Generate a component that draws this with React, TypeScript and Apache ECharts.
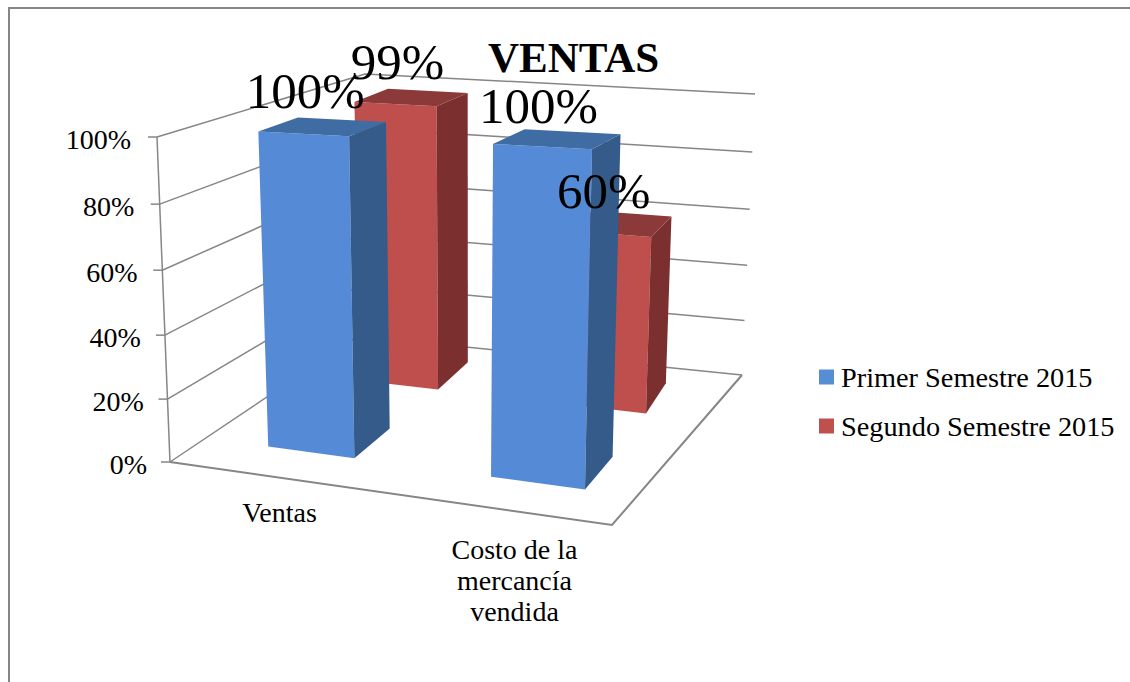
import React, { useEffect, useRef } from "react";
import * as echarts from "echarts";

const categories = ["Ventas", "Costo de la\nmercancía\nvendida"];
const seriesNames = ["Primer Semestre 2015", "Segundo Semestre 2015"];
const primerValues = [1.0, 1.0];
const segundoValues = [0.99, 0.6];
const tickValues = [0, 0.2, 0.4, 0.6, 0.8, 1.0];
const tickLabels = ["0%", "20%", "40%", "60%", "80%", "100%"];
const titleText = "VENTAS";

const FONT = "Liberation Serif";
const GREY = "#868686";

type P = [number, number];
// projected corners of the 3D box: front-left, front-right, back-left, back-right
const floor: P[] = [[170, 462], [612, 525], [358, 336], [742, 375]];
const wallTop: P[] = [[157, 137], [626, 162], [365, 74], [755, 94]];
const barTop: P[] = [[155, 140], [621, 165], [352.5, 77], [755, 97]];

const bil = (c: P[], u: number, w: number): P => {
  const f = (k: 0 | 1) =>
    (1 - w) * ((1 - u) * c[0][k] + u * c[1][k]) + w * ((1 - u) * c[2][k] + u * c[3][k]);
  return [f(0), f(1)];
};
const persp = (v: number) => (v * 0.96) / (1 - 0.04 * v);
const project = (top: P[], u: number, w: number, v: number): P => {
  const a = bil(floor, u, w);
  const b = bil(top, u, w);
  const t = persp(v);
  return [a[0] + (b[0] - a[0]) * t, a[1] + (b[1] - a[1]) * t];
};

// bar placement in the box (layout only): per series, per category
const barLayout = [
  {
    shift: [-0.005, 0.021],
    half: [0.1, 0.109],
    taper: [-0.004, -0.006],
    depth: [0.19, 0.41],
    labelOffset: [[1.5, -43], [-4, -41]],
    front: "#558BD6",
    top: "#3F6DA3",
    side: "#345B89",
  },
  {
    shift: [-0.0075, 0.009],
    half: [0.0975, 0.099],
    taper: [-0.01, -0.02],
    depth: [0.7, 0.9],
    labelOffset: [[2, -42], [-6.5, -43]],
    front: "#BE4F4C",
    top: "#8C3939",
    side: "#7B2F2F",
  },
];
const catLabelOffset: P[] = [[-1, 19], [13, 24.5]];

const norm = (params: any, api: any, i: number, val: number) => {
  const cs = params.coordSys;
  const pt = api.coord([i, val]);
  return { u: (pt[0] - cs.x) / cs.width, v: (cs.y + cs.height - pt[1]) / cs.height };
};

const barRender = (s: number) => (params: any, api: any) => {
  const i = api.value(0);
  const { u, v } = norm(params, api, i, api.value(1));
  const L = barLayout[s];
  const c = u + L.shift[i];
  const u0 = c - L.half[i];
  const u1 = c + L.half[i];
  const t = L.taper[i];
  const [w0, w1] = L.depth;
  const p = (uu: number, w: number, vv: number) => project(barTop, uu, w, vv);
  return {
    type: "group",
    children: [
      { type: "polygon", shape: { points: [p(u0, w0, 0), p(u1, w0, 0), p(u1, w0, v), p(u0, w0, v)] }, style: { fill: L.front } },
      { type: "polygon", shape: { points: [p(u1, w0, 0), p(u1 + t, w1, 0), p(u1 + t, w1, v), p(u1, w0, v)] }, style: { fill: L.side } },
      { type: "polygon", shape: { points: [p(u0, w0, v), p(u1, w0, v), p(u1 + t, w1, v), p(u0 + t, w1, v)] }, style: { fill: L.top } },
    ],
  };
};

const labelRender = (s: number) => (params: any, api: any) => {
  const i = api.value(0);
  const val = api.value(1);
  const { u, v } = norm(params, api, i, val);
  const L = barLayout[s];
  const pt = project(barTop, u + L.shift[i], L.depth[0], v);
  return {
    type: "text",
    style: {
      text: Math.round(val * 100) + "%",
      x: pt[0] + L.labelOffset[i][0],
      y: pt[1] + L.labelOffset[i][1],
      align: "center",
      verticalAlign: "middle",
      fontFamily: FONT,
      fontSize: 51,
      fill: "#000",
    },
  };
};

const wallRender = (params: any, api: any) => {
  const idx = params.dataIndex;
  const { v } = norm(params, api, 0, api.value(1));
  const fl = project(wallTop, 0, 0, v);
  const bl = project(wallTop, 0, 1, v);
  const br = project(wallTop, 1, 1, v);
  const lineStyle = { stroke: GREY, lineWidth: 1.5, fill: "none" };
  const children: any[] = [
    { type: "polyline", shape: { points: [fl, bl, br] }, style: lineStyle },
    { type: "line", shape: { x1: fl[0] - 9, y1: fl[1], x2: fl[0], y2: fl[1] }, style: lineStyle },
    {
      type: "text",
      style: {
        text: tickLabels[idx],
        x: fl[0] - 23 - 3 * v,
        y: fl[1] + 2,
        align: "right",
        verticalAlign: "middle",
        fontFamily: FONT,
        fontSize: 28,
        fill: "#000",
      },
    },
  ];
  if (v === 0) {
    const top = project(wallTop, 0, 0, 1);
    const fr = project(wallTop, 1, 0, 0);
    const floorStyle = { stroke: GREY, lineWidth: 2, fill: "none" };
    children.push(
      { type: "line", shape: { x1: fl[0], y1: fl[1], x2: top[0], y2: top[1] }, style: lineStyle },
      { type: "polyline", shape: { points: [fl, fr, br] }, style: floorStyle },
    );
  }
  return { type: "group", children };
};

const catRender = (params: any, api: any) => {
  const i = api.value(0);
  const { u } = norm(params, api, i, 0);
  const pt = project(wallTop, u, 0, 0);
  return {
    type: "text",
    style: {
      text: categories[i],
      x: pt[0] + catLabelOffset[i][0],
      y: pt[1] + catLabelOffset[i][1],
      align: "center",
      verticalAlign: "top",
      lineHeight: 31,
      fontFamily: FONT,
      fontSize: 28,
      fill: "#000",
    },
  };
};

const App = () => {
  const ref = useRef<HTMLDivElement>(null);
  useEffect(() => {
    const chart = echarts.init(ref.current!, undefined, { renderer: "svg" });
    const pairs = (vals: number[]) => vals.map((v, i) => [i, v]);
    const custom = (extra: any) => ({ type: "custom", encode: { x: 0, y: 1 }, silent: true, clip: false, ...extra });
    chart.setOption({
      animation: false,
      backgroundColor: "#fff",
      title: {
        text: titleText,
        left: 488,
        top: 36,
        padding: 0,
        textStyle: { fontFamily: FONT, fontWeight: "bold", fontSize: 43, color: "#000" },
      },
      legend: {
        data: seriesNames,
        orient: "vertical",
        left: 819,
        top: 363,
        padding: 0,
        itemWidth: 15,
        itemHeight: 15,
        itemGap: 21,
        icon: "rect",
        selectedMode: false,
        textStyle: { fontFamily: FONT, fontSize: 28.3, color: "#000", padding: [0, 0, 0, 2] },
      },
      grid: { left: 100, right: 100, top: 100, bottom: 100 },
      xAxis: { type: "category", data: categories, show: false },
      yAxis: { type: "value", min: 0, max: 1, interval: 0.2, show: false },
      graphic: [
        {
          type: "polyline",
          shape: { points: [[1130, 8], [9, 8], [9, 682]] },
          style: { stroke: GREY, lineWidth: 2, fill: "none" },
          silent: true,
        },
      ],
      series: [
        custom({ name: "ejes", z: 1, data: tickValues.map((v) => [0, v]), renderItem: wallRender }),
        custom({ name: "categorias", z: 1, data: pairs(categories.map(() => 0)), renderItem: catRender }),
        custom({ name: seriesNames[1], z: 2, data: pairs(segundoValues), renderItem: barRender(1), itemStyle: { color: "#C0504D" } }),
        custom({ name: seriesNames[0], z: 3, data: pairs(primerValues), renderItem: barRender(0), itemStyle: { color: "#558ED5" } }),
        custom({ name: "etiquetas2", z: 4, data: pairs(segundoValues), renderItem: labelRender(1) }),
        custom({ name: "etiquetas1", z: 4, data: pairs(primerValues), renderItem: labelRender(0) }),
      ],
    });
    return () => chart.dispose();
  }, []);
  return (
    <div
      ref={ref}
      style={{ position: "fixed", left: 0, top: 0, width: 1130, height: 682, background: "#fff" }}
    />
  );
};

export default App;
